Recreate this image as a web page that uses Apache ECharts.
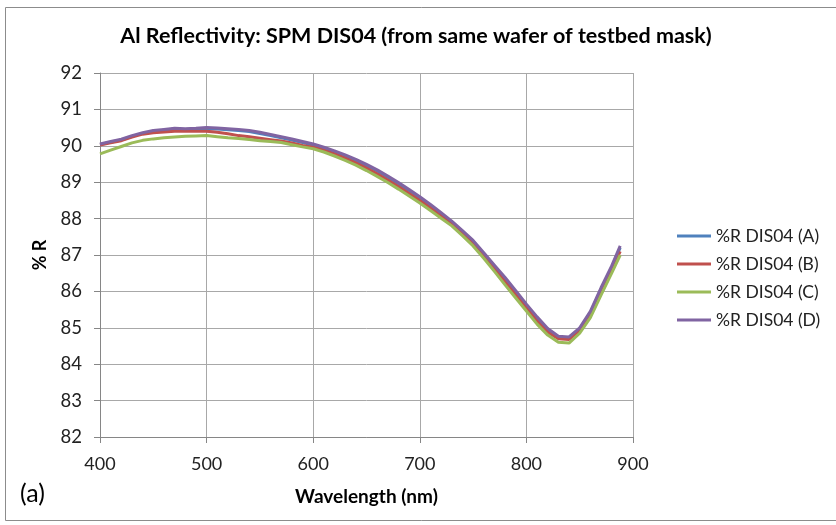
<!DOCTYPE html>
<html>
<head>
<meta charset="utf-8">
<script src="https://cdn.jsdelivr.net/npm/echarts@6/dist/echarts.min.js"></script>
<style>html,body{margin:0;padding:0;background:#fff}#c{width:836px;height:525px}</style>
</head>
<body>
<div id="c"></div>
<script>
var wavelengths = [400,410,420,430,440,450,460,470,480,490,500,510,520,530,540,550,560,570,580,590,600,610,620,630,640,650,660,670,680,690,700,710,720,730,740,750,760,770,780,790,800,810,820,830,840,850,860,870,880,888];
var seriesA = [90.03,90.10,90.16,90.26,90.34,90.40,90.43,90.46,90.45,90.46,90.47,90.46,90.44,90.42,90.39,90.34,90.28,90.22,90.16,90.09,90.02,89.93,89.83,89.72,89.60,89.46,89.31,89.14,88.96,88.77,88.57,88.36,88.13,87.90,87.64,87.37,87.03,86.69,86.34,85.98,85.61,85.26,84.94,84.74,84.72,84.97,85.42,86.06,86.66,87.20];
var seriesB = [90.02,90.08,90.14,90.24,90.32,90.36,90.38,90.40,90.41,90.40,90.40,90.37,90.33,90.28,90.25,90.21,90.17,90.13,90.08,90.01,89.96,89.88,89.78,89.66,89.53,89.39,89.23,89.06,88.88,88.69,88.50,88.29,88.07,87.85,87.59,87.32,86.98,86.63,86.27,85.91,85.55,85.19,84.88,84.70,84.68,84.93,85.37,86.00,86.60,87.10];
var seriesC = [89.78,89.88,89.98,90.08,90.15,90.19,90.22,90.24,90.26,90.27,90.28,90.25,90.22,90.20,90.17,90.14,90.12,90.09,90.03,89.97,89.92,89.83,89.72,89.60,89.47,89.32,89.16,88.99,88.81,88.62,88.43,88.22,88.01,87.80,87.53,87.25,86.91,86.55,86.18,85.82,85.46,85.10,84.80,84.60,84.58,84.85,85.28,85.90,86.50,87.00];
var seriesD = [90.05,90.12,90.18,90.28,90.36,90.42,90.45,90.48,90.47,90.48,90.50,90.49,90.47,90.45,90.42,90.37,90.31,90.25,90.19,90.12,90.05,89.96,89.86,89.75,89.63,89.49,89.34,89.17,88.99,88.80,88.60,88.39,88.16,87.93,87.67,87.40,87.06,86.72,86.38,86.02,85.65,85.30,84.98,84.77,84.75,85.00,85.45,86.10,86.70,87.25];
var seriesNames = ['%R DIS04 (A)','%R DIS04 (B)','%R DIS04 (C)','%R DIS04 (D)'];
var seriesColors = ['#4F81BD','#C0504D','#9BBB59','#8064A2'];

function pairs(vals){ return wavelengths.map(function(w,i){ return [w, vals[i]]; }); }
var allVals = [seriesA, seriesB, seriesC, seriesD];
var FONT = 'Lato';
var axisColor = '#868686';
var gridColor = '#a8a8a8';

var chart = echarts.init(document.getElementById('c'));
chart.setOption({
  animation: false,
  backgroundColor: '#fff',
  textStyle: {fontFamily: FONT},
  title: {
    text: 'Al Reflectivity: SPM DIS04 (from same wafer of testbed mask)',
    left: 416, top: 25, textAlign: 'center', padding: 0,
    textStyle: {fontFamily: FONT, fontSize: 21.5, fontWeight: 'bold', color: '#000'}
  },
  legend: {
    orient: 'vertical', left: 677, top: 226, padding: 0,
    itemWidth: 34, itemHeight: 3, itemGap: 8, icon: 'rect',
    textStyle: {fontFamily: FONT, fontSize: 17.5, color: '#222', lineHeight: 20},
    data: seriesNames
  },
  grid: {left: 100, top: 73, width: 533, height: 364, containLabel: false},
  xAxis: {
    type: 'value', min: 400, max: 900, interval: 100,
    name: 'Wavelength (nm)', nameLocation: 'middle', nameGap: 50,
    nameTextStyle: {fontFamily: FONT, fontSize: 19, fontWeight: 'bold', color: '#000'},
    axisLine: {show: true, onZero: false, lineStyle: {color: axisColor, width: 1}},
    axisTick: {show: true, length: 6, lineStyle: {color: axisColor}},
    axisLabel: {fontFamily: FONT, fontSize: 18, color: '#222', margin: 18},
    splitLine: {show: true, lineStyle: {color: gridColor, width: 1}}
  },
  yAxis: {
    type: 'value', min: 82, max: 92, interval: 1,
    name: '% R', nameLocation: 'middle', nameGap: 44, nameRotate: 90,
    nameTextStyle: {fontFamily: FONT, fontSize: 18, fontWeight: 'bold', color: '#000'},
    axisLine: {show: true, lineStyle: {color: axisColor, width: 1}},
    axisTick: {show: true, length: 6, lineStyle: {color: axisColor}},
    axisLabel: {fontFamily: FONT, fontSize: 18.5, color: '#222', margin: 18},
    splitLine: {show: true, lineStyle: {color: gridColor, width: 1}}
  },
  graphic: [
    {type: 'rect', shape: {x: 5.5, y: 7.5, width: 840, height: 513}, style: {fill: 'none', stroke: '#8c8c8c', lineWidth: 1}, silent: true, z: -1},
    {type: 'text', left: 20, top: 481, style: {text: '(a)', fontFamily: FONT, fontSize: 25, fill: '#000'}}
  ],
  series: allVals.map(function(v, i){
    return {
      name: seriesNames[i], type: 'line', data: pairs(v),
      showSymbol: false, symbol: 'none',
      lineStyle: {width: 3, color: seriesColors[i]},
      itemStyle: {color: seriesColors[i]}
    };
  })
});
</script>
</body>
</html>
